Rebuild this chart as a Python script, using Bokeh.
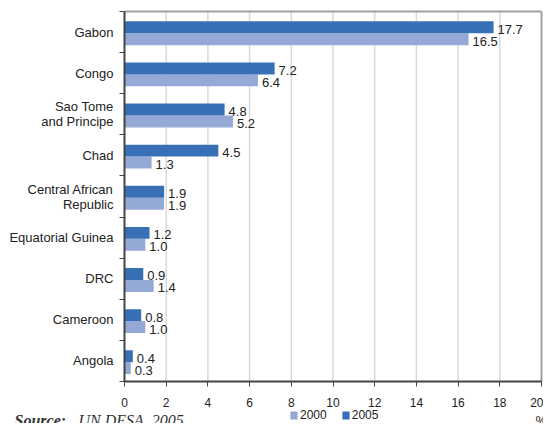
from bokeh.plotting import figure
from bokeh.models import ColumnDataSource, FixedTicker, Label, Legend, LegendItem
from bokeh.core.properties import value
from bokeh.embed import file_html
from bokeh.resources import INLINE

# Data (bottom to top)
countries = ["Angola", "Cameroon", "DRC", "Equatorial Guinea", "Central African\nRepublic",
             "Chad", "Sao Tome\nand Principe", "Congo", "Gabon"]
v2005 = [0.4, 0.8, 0.9, 1.2, 1.9, 4.5, 4.8, 7.2, 17.7]
v2000 = [0.3, 1.0, 1.4, 1.0, 1.9, 1.3, 5.2, 6.4, 16.5]
x_ticks = [0, 2, 4, 6, 8, 10, 12, 14, 16, 18, 20]

DARK = "#3870b6"
LIGHT = "#95a9d7"
AXIS = "#444444"
FONT = "Liberation Sans"

W, H = 543, 423
n = len(countries)
xmin, xmax = x_ticks[0], x_ticks[-1]

# pixel layout of the plotting area inside the figure
px_left, px_right, px_top, px_bottom = 124, 541, 11, 381
sx = (px_right - px_left) / (xmax - xmin)
sy = (px_bottom - px_top) / n
x_range = (xmin - px_left / sx, xmax + (W - px_right) / sx)
y_range = (-(H - px_bottom) / sy, n + px_top / sy)

centers = [i + 0.5 for i in range(n)]
bh = 0.29
split = [c - 0.03 for c in centers]
y05 = [s + bh / 2 for s in split]
y00 = [s - bh / 2 for s in split]

src = ColumnDataSource(dict(
    y05=y05, y00=y00, v05=v2005, v00=v2000,
    t05=[f"{v:.1f}" for v in v2005], t00=[f"{v:.1f}" for v in v2000],
))

p = figure(width=W, height=H, output_backend="svg", toolbar_location=None,
           x_range=x_range, y_range=y_range,
           min_border=0, min_border_left=0, min_border_right=0,
           min_border_top=0, min_border_bottom=0)
p.outline_line_color = None
p.background_fill_color = "white"
p.border_fill_color = "white"
p.grid.visible = False

# vertical grid lines and plot border (top / right)
grid_x = x_ticks[1:-1]
p.segment(x0=grid_x, y0=[0] * len(grid_x), x1=grid_x, y1=[n] * len(grid_x),
          line_color="#d9d9d9", line_width=1.5)
p.segment(x0=[xmin, xmax], y0=[n, 0], x1=[xmax, xmax], y1=[n, n],
          line_color="#a0a0a0", line_width=2)

r00 = p.hbar(y="y00", right="v00", left=0, height=bh, source=src, color=LIGHT, line_color=None)
r05 = p.hbar(y="y05", right="v05", left=0, height=bh, source=src, color=DARK, line_color=None)

p.text(x="v05", y="y05", text="t05", source=src, x_offset=4, y_offset=2,
       text_font=value(FONT), text_font_size="13px", text_color="#222222",
       text_align="left", text_baseline="middle")
p.text(x="v00", y="y00", text="t00", source=src, x_offset=4, y_offset=2,
       text_font=value(FONT), text_font_size="13px", text_color="#222222",
       text_align="left", text_baseline="middle")

# x axis
p.xaxis.fixed_location = 0
p.xaxis.bounds = (xmin, xmax)
p.xaxis.ticker = FixedTicker(ticks=x_ticks, minor_ticks=[])
p.xaxis.axis_line_color = AXIS
p.xaxis.axis_line_width = 2
p.xaxis.major_tick_line_color = AXIS
p.xaxis.major_tick_out = 5
p.xaxis.major_tick_in = 0
p.xaxis.major_label_text_font = FONT
p.xaxis.major_label_text_font_size = "12px"
p.xaxis.major_label_text_color = "#222222"
p.xaxis.major_label_standoff = 11

# y axis (category names)
p.yaxis.fixed_location = 0
p.yaxis.bounds = (0, n)
p.yaxis.ticker = FixedTicker(ticks=centers, minor_ticks=list(range(n + 1)))
p.yaxis.major_label_overrides = {c: name for c, name in zip(centers, countries)}
p.yaxis.major_tick_out = 0
p.yaxis.major_tick_in = 0
p.yaxis.minor_tick_out = 5
p.yaxis.minor_tick_in = 0
p.yaxis.minor_tick_line_color = AXIS
p.yaxis.axis_line_color = AXIS
p.yaxis.axis_line_width = 2
p.yaxis.major_label_text_font = FONT
p.yaxis.major_label_text_font_size = "13px"
p.yaxis.major_label_text_color = "#222222"
p.yaxis.major_label_text_line_height = 1.0
p.yaxis.major_label_standoff = 6

legend = Legend(items=[LegendItem(label="2000", renderers=[r00]),
                       LegendItem(label="2005", renderers=[r05])],
                orientation="horizontal", location=(289, 1),
                label_text_font=FONT, label_text_font_size="12px",
                label_text_color="#222222", glyph_width=9, glyph_height=10,
                label_standoff=2, spacing=14, padding=0, margin=0,
                label_height=10,
                border_line_color=None, background_fill_alpha=0)
p.add_layout(legend, "center")

p.add_layout(Label(x=14, y=3, x_units="screen", y_units="screen", text="Source:",
                   text_font="Liberation Serif", text_font_style="bold italic",
                   text_font_size="16px", text_color="#333333", text_baseline="alphabetic"))
p.add_layout(Label(x=78, y=3, x_units="screen", y_units="screen", text="UN DESA, 2005",
                   text_font="Liberation Serif", text_font_style="italic",
                   text_font_size="16px", text_color="#333333", text_baseline="alphabetic"))

p.add_layout(Label(x=535, y=3, x_units="screen", y_units="screen", text="%",
                   text_font=FONT, text_font_size="13px", text_color="#222222",
                   text_baseline="alphabetic"))

open("out.html", "w").write(file_html(p, INLINE))
